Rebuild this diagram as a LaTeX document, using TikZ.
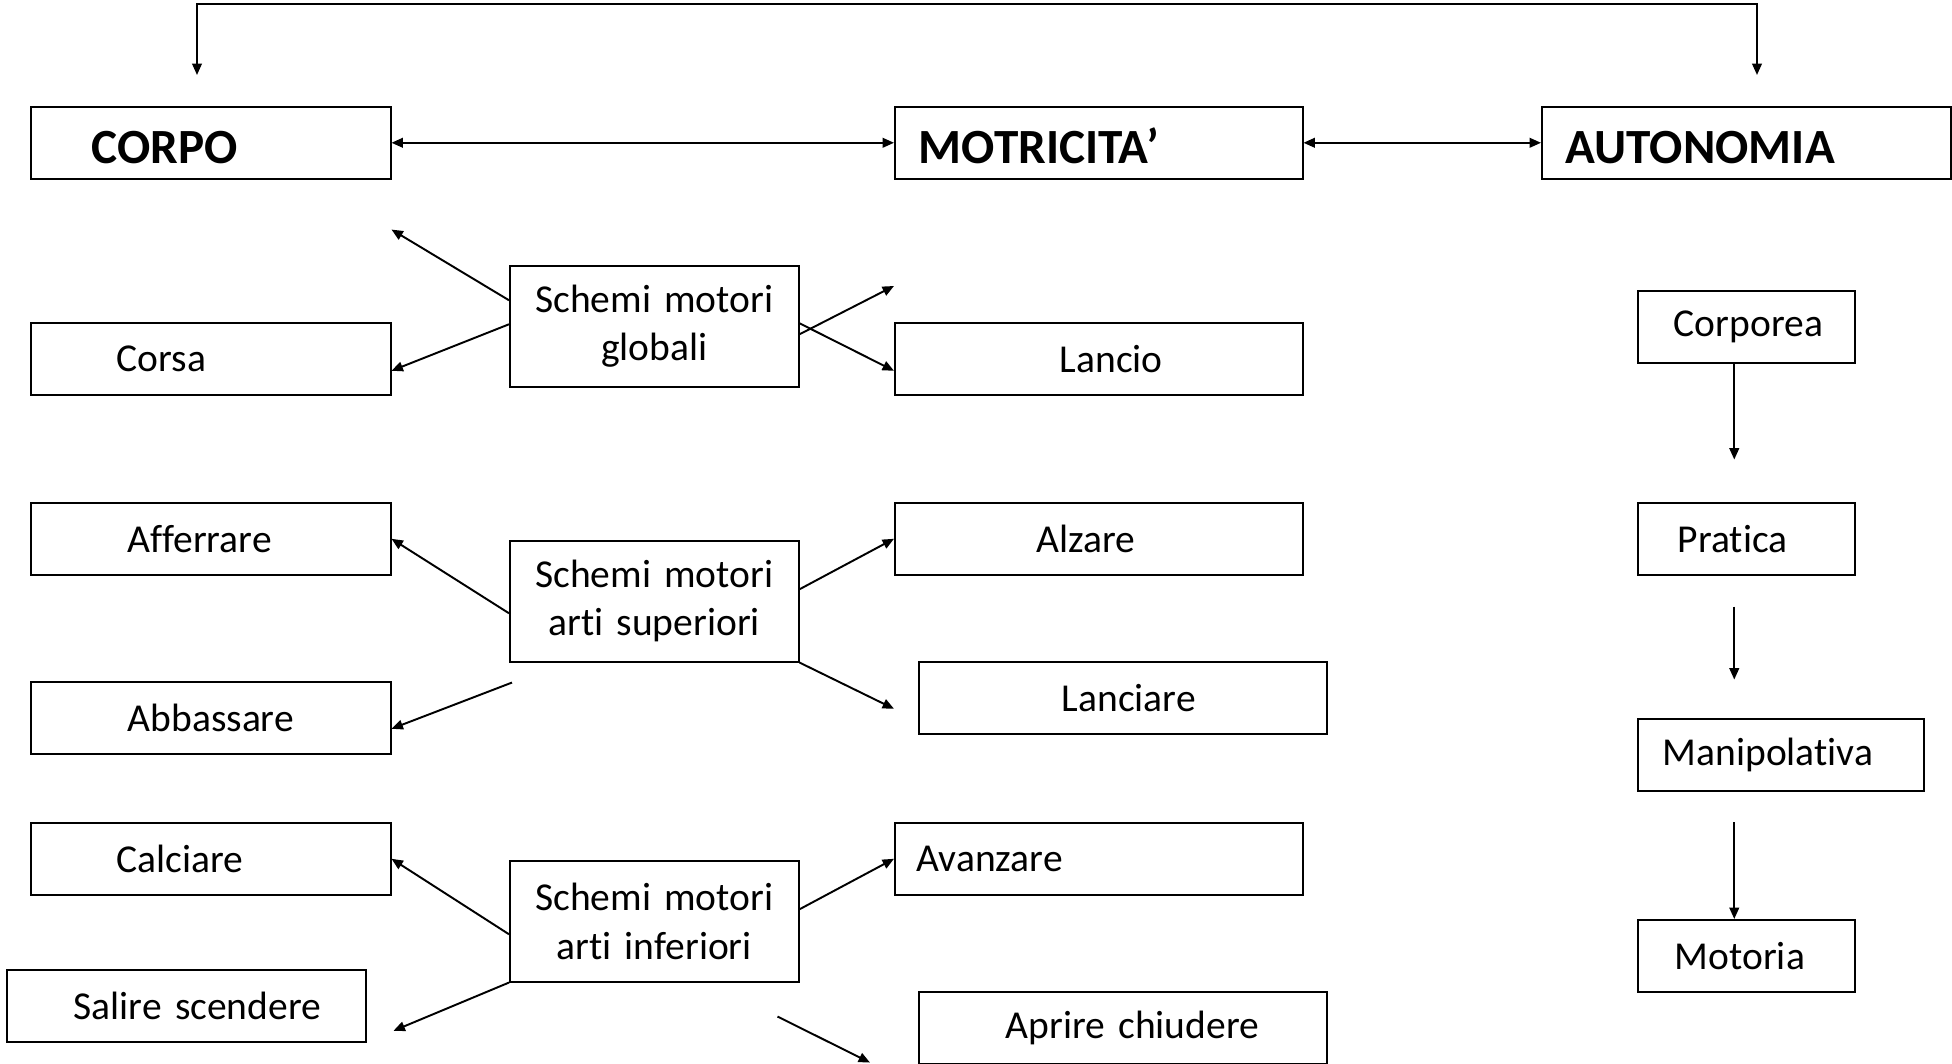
\documentclass[tikz,border=0pt]{standalone}
\usepackage{fontspec}
\setmainfont{Carlito}[Ligatures=NoCommon, WordSpace=0.6]
\usetikzlibrary{arrows.meta,calc}

\begin{document}
\begin{tikzpicture}[
x=0.02cm, y=-0.02cm,
box/.style={draw, line width=0.9pt, anchor=north west, inner sep=0pt, minimum height=1.44cm, align=left, font=\fontsize{22.5}{27.5}\selectfont},
head/.style={box, font=\fontsize{28}{33}\selectfont\bfseries, text height=24pt, text depth=0pt},
scheme/.style={box, align=center, text width=5.78cm, minimum height=2.42cm},
arrow/.style={-{Triangle[length=6.5pt,width=5.5pt]}, line width=1.1pt},
biarrow/.style={{Triangle[length=6.5pt,width=5.5pt]}-{Triangle[length=6.5pt,width=5.5pt]}, line width=1.1pt} ]

\useasboundingbox (0,0) rectangle (1952,1064);

% headings
\node[head, text width=7.2cm] (corpo) at (30,106) {\hspace*{1.22cm}CORPO};
\node[head, text width=8.16cm] (motricita) at (894,106) {\hspace*{0.48cm}MOTRICITA’};
\node[head, text width=8.18cm] (autonomia) at (1541,106) {\hspace*{0.48cm}AUTONOMIA};

% left column
\node[box, text width=7.2cm] (corsa) at (30,322) {\hspace*{1.72cm}Corsa};
\node[box, text width=7.2cm] (afferrare) at (30,502) {\hspace*{1.94cm}Afferrare};
\node[box, text width=7.2cm] (abbassare) at (30,681) {\hspace*{1.94cm}Abbassare};
\node[box, text width=7.2cm] (calciare) at (30,822) {\hspace*{1.72cm}Calciare};
\node[box, text width=7.18cm] (salire) at (6,969) {\hspace*{1.34cm}Salire scendere};

% schemi motori
\node[scheme] (globali) at (509,265) {Schemi motori\\globali};
\node[scheme] (superiori) at (509,540) {Schemi motori\\arti superiori};
\node[scheme] (inferiori) at (509,860) {Schemi motori\\arti inferiori};

% middle column
\node[box, text width=8.16cm] (lancio) at (894,322) {\hspace*{3.3cm}Lancio};
\node[box, text width=8.16cm] (alzare) at (894,502) {\hspace*{2.84cm}Alzare};
\node[box, text width=8.16cm] (lanciare) at (918,661) {\hspace*{2.86cm}Lanciare};
\node[box, text width=8.16cm] (avanzare) at (894,822) {\hspace*{0.44cm}Avanzare};
\node[box, text width=8.16cm] (aprire) at (918,991) {\hspace*{1.74cm}Aprire chiudere};

% right column
\node[box, text width=4.34cm] (corporea) at (1637,290) {\hspace*{0.72cm}Corporea};
\node[box, text width=4.34cm] (pratica) at (1637,502) {\hspace*{0.8cm}Pratica};
\node[box, text width=5.72cm] (manipolativa) at (1637,718) {\hspace*{0.5cm}Manipolativa};
\node[box, text width=4.34cm] (motoria) at (1637,919) {\hspace*{0.74cm}Motoria};

% top frame
\coordinate (frameL) at (197,75);
\coordinate (frameR) at (1757,75);
\draw[biarrow] (frameL) -- ++(0,-71) -| (frameR);

\draw[biarrow] (corpo.east) -- (motricita.west);
\draw[biarrow] (motricita.east) -- (autonomia.west);

% globali
\draw[arrow] ($(globali.west)+(0,-26)$) -- ($(corpo.south east)+(0,50)$);
\draw[arrow] ($(globali.west)+(0,-2)$) -- ($(corsa.east)+(0,12)$);
\draw[arrow] ($(globali.east)+(0,8)$) -- ($(lancio.north west)+(0,-36)$);
\draw[arrow] ($(globali.east)+(0,-3)$) -- ($(lancio.west)+(0,12)$);

% arti superiori
\draw[arrow] ($(superiori.west)+(0,12)$) -- (afferrare.east);
\draw[arrow] ($(superiori.south west)+(3,20)$) -- ($(abbassare.east)+(0,11)$);
\draw[arrow] ($(superiori.east)+(0,-12)$) -- (alzare.west);
\draw[arrow] (superiori.south east) -- ($(lanciare.west)+(-24,11)$);

% arti inferiori
\draw[arrow] ($(inferiori.west)+(0,13)$) -- (calciare.east);
\draw[arrow] (inferiori.south west) -- ($(salire.east)+(27,25)$);
\draw[arrow] ($(inferiori.east)+(0,-12)$) -- (avanzare.west);
\draw[arrow] ($(inferiori.south east)+(-22,34)$) -- ($(aprire.south west)+(-48,-2)$);

% autonomia
\draw[arrow] ($(corporea.south)+(-12,0)$) -- ++(0,96);
\draw[arrow] ($(pratica.south)+(-12,31)$) -- ++(0,73);
\draw[arrow] ($(motoria.north)+(-12,-97)$) -- ($(motoria.north)+(-12,0)$);

\end{tikzpicture}
\end{document}
